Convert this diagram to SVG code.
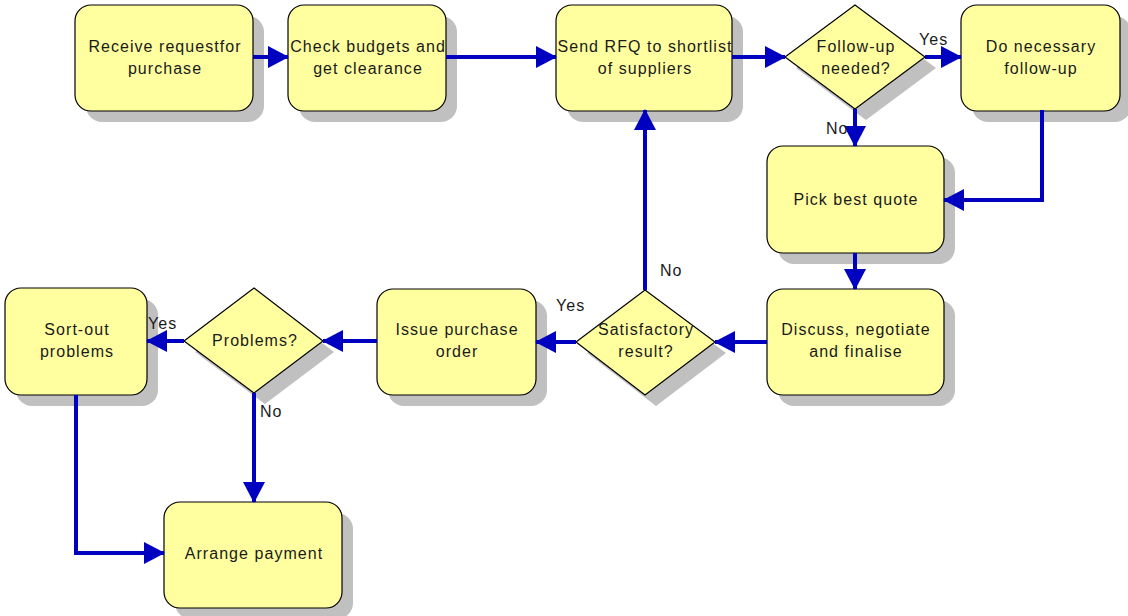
<svg xmlns="http://www.w3.org/2000/svg" width="1128" height="616" viewBox="0 0 1128 616">
<defs>
<style>
.box{fill:#FFFFA0;stroke:#000;stroke-width:1.2}
.sh{fill:#C0C0C0}
.t{font-family:"Liberation Sans",Arial,sans-serif;font-size:16px;letter-spacing:1.05px;fill:#1a1a1a;text-anchor:middle}
.lb{font-family:"Liberation Sans",Arial,sans-serif;font-size:16px;letter-spacing:1.05px;fill:#1a1a1a}
.c{fill:none;stroke:#0000C0;stroke-width:4;marker-end:url(#ah)}
</style>
<marker id="ah" markerUnits="userSpaceOnUse" markerWidth="22" markerHeight="24" refX="20" refY="11" orient="auto">
<path d="M0,0 L21,11 L0,22 z" fill="#0000C0"/>
</marker>
</defs>
<rect width="1128" height="616" fill="#fff"/>

<g id="n1"><rect class="sh" x="86" y="16" width="178" height="106" rx="16"/><rect class="box" x="75" y="5" width="178" height="106" rx="16"/><text class="t" x="165" y="52">Receive requestfor</text><text class="t" x="165" y="74">purchase</text></g>
<g id="n2"><rect class="sh" x="299" y="16" width="158" height="106" rx="16"/><rect class="box" x="288" y="5" width="158" height="106" rx="16"/><text class="t" x="368" y="52">Check budgets and</text><text class="t" x="368" y="74">get clearance</text></g>
<g id="n3"><rect class="sh" x="567" y="16" width="176" height="106" rx="16"/><rect class="box" x="556" y="5" width="176" height="106" rx="16"/><text class="t" x="645" y="52">Send RFQ to shortlist</text><text class="t" x="645" y="74">of suppliers</text></g>
<g id="d1"><polygon class="sh" points="866,16 936,68 866,120 796,68"/><polygon class="box" points="855,5 925,57 855,109 785,57"/><text class="t" x="856" y="52">Follow-up</text><text class="t" x="856" y="74">needed?</text></g>
<g id="n4"><rect class="sh" x="972" y="16" width="159" height="106" rx="16"/><rect class="box" x="961" y="5" width="159" height="106" rx="16"/><text class="t" x="1041" y="52">Do necessary</text><text class="t" x="1041" y="74">follow-up</text></g>
<g id="n5"><rect class="sh" x="778" y="157" width="177" height="107" rx="16"/><rect class="box" x="767" y="146" width="177" height="107" rx="16"/><text class="t" x="856" y="205">Pick best quote</text></g>
<g id="n6"><rect class="sh" x="778" y="300" width="177" height="106" rx="16"/><rect class="box" x="767" y="289" width="177" height="106" rx="16"/><text class="t" x="856" y="335">Discuss, negotiate</text><text class="t" x="856" y="357">and finalise</text></g>
<g id="d2"><polygon class="sh" points="656,301 726,353 656,406 587,353"/><polygon class="box" points="645,290 715,342 645,395 576,342"/><text class="t" x="646" y="335">Satisfactory</text><text class="t" x="646" y="357">result?</text></g>
<g id="n7"><rect class="sh" x="388" y="300" width="159" height="106" rx="16"/><rect class="box" x="377" y="289" width="159" height="106" rx="16"/><text class="t" x="457" y="335">Issue purchase</text><text class="t" x="457" y="357">order</text></g>
<g id="d3"><polygon class="sh" points="265,299 334,352 265,404 195,352"/><polygon class="box" points="254,288 323,341 254,393 184,341"/><text class="t" x="255" y="346">Problems?</text></g>
<g id="n8"><rect class="sh" x="16" y="299" width="142" height="107" rx="16"/><rect class="box" x="5" y="288" width="142" height="107" rx="16"/><text class="t" x="77" y="335">Sort-out</text><text class="t" x="77" y="357">problems</text></g>
<g id="n9"><rect class="sh" x="175" y="513" width="178" height="106" rx="16"/><rect class="box" x="164" y="502" width="178" height="106" rx="16"/><text class="t" x="254" y="559">Arrange payment</text></g>

<g id="connectors">
<path class="c" d="M253,57 H288"/>
<path class="c" d="M446,57 H556"/>
<path class="c" d="M732,57 H785"/>
<path class="c" d="M925,57 H961"/>
<path class="c" d="M855,109 V146"/>
<path class="c" d="M1042,110 V200 H944"/>
<path class="c" d="M855,253 V289"/>
<path class="c" d="M767,342 H715"/>
<path class="c" d="M645,290 V110"/>
<path class="c" d="M576,342 H536"/>
<path class="c" d="M377,341 H323"/>
<path class="c" d="M184,341 H147"/>
<path class="c" d="M254,393 V502"/>
<path class="c" d="M76,395 V553 H164"/>
</g>
<g id="labels">
<text class="lb" x="919" y="45">Yes</text>
<text class="lb" x="826" y="134">No</text>
<text class="lb" x="660" y="276">No</text>
<text class="lb" x="556" y="311">Yes</text>
<text class="lb" x="148" y="329">Yes</text>
<text class="lb" x="260" y="417">No</text>
</g>
</svg>
